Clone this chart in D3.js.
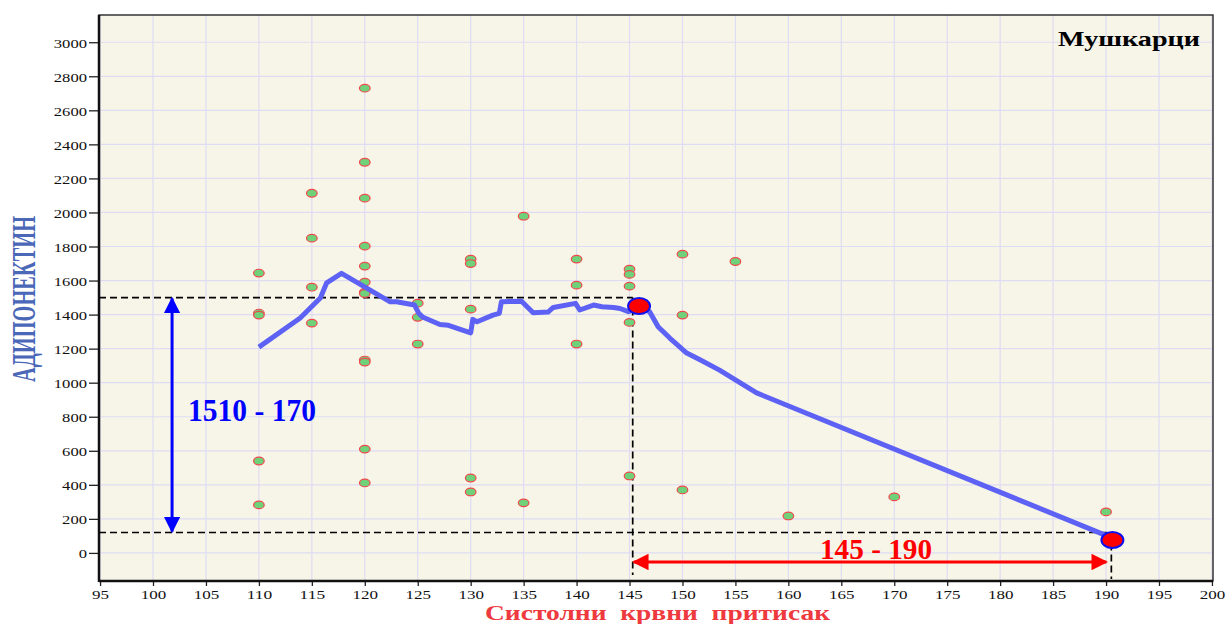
<!DOCTYPE html>
<html>
<head>
<meta charset="utf-8">
<script src="https://cdn.jsdelivr.net/npm/d3@7"></script>
<style>
html,body{margin:0;padding:0;background:#fff;}
svg{display:block;}
</style>
</head>
<body>
<svg id="chart" width="1226" height="624"></svg>
<script>
// ---- data ----
const scatterX = [110,110,110,110,110, 115,115,115,115,
  120,120,120,120,120,120,120,120,120,120,120,120,
  125,125,125, 130,130,130,130,130, 135,135, 140,140,140,
  145,145,145,145,145, 150,150,150, 155, 160, 170, 190];
const scatterY = [1644,1409,1397,540,282, 2113,1849,1561,1350,
  2730,2295,2084,1802,1685,1591,1532,1524,1133,1121,610,411,
  1467,1384,1227, 1726,1700,1432,440,358, 1978,294, 1726,1573,1227,
  1667,1636,1567,1354,452, 1755,1397,370, 1712, 217, 329, 241];

const curveX = [110,113.9,115.8,116.4,117.8,122.4,123,124.7,125.1,125.5,127.1,127.9,130,130.2,130.6,132.1,132.7,132.9,134.8,135.9,137.3,137.8,139.9,140.3,141.6,142.4,143.5,144.1,144.9,145.9,146.9,147.7,148.8,150.4,151.7,153.5,157,190.5];
const curveY = [1209,1380,1497,1587,1642,1475,1475,1456,1407,1384,1342,1337,1293,1372,1358,1397,1407,1475,1479,1411,1415,1442,1466,1427,1456,1446,1442,1436,1417,1440,1417,1329,1262,1174,1133,1074,940,90];

const markerX = [145.9, 190.6];
const markerY = [1450, 76];

const xTicks = d3.range(95, 201, 5);
const yTicks = d3.range(0, 3001, 200);

const yLevelHigh = 1500, yLevelLow = 120;
const xLevelLeft = 145.3, xLevelRight = 190.5;
const vArrowX = 101.8;

const title = "Мушкарци";
const xTitle = "Систолни  крвни  притисак";
const yTitle = "АДИПОНЕКТИН";
const vLabel = "1510 - 170";
const hLabel = "145 - 190";

// ---- layout ----
const L = 99, R = 1213, T = 15, B = 581;
const x = d3.scaleLinear().domain([94.9, 200.1]).range([L, R]);
const y = d3.scaleLinear().domain([-165, 3160]).range([B, T]);

const svg = d3.select("#chart");
const serif = "'Liberation Serif','Times New Roman',serif";

const defs = svg.append("defs");
function arrowMarker(id, color) {
  defs.append("marker").attr("id", id).attr("viewBox", "0 0 10 10")
    .attr("refX", 9).attr("refY", 5).attr("markerWidth", 5.5).attr("markerHeight", 5.5)
    .attr("orient", "auto-start-reverse").attr("markerUnits", "strokeWidth")
    .append("path").attr("d", "M0,0 L10,5 L0,10 z").attr("fill", color);
}
arrowMarker("ab", "#0000ff");
arrowMarker("ar", "#ff0000");

// background
svg.append("rect").attr("x", L).attr("y", T).attr("width", R - L).attr("height", B - T).attr("fill", "#f7f5e8");

// grid
const g = svg.append("g");
g.selectAll(".vg").data(xTicks).join("line")
  .attr("x1", d => x(d)).attr("x2", d => x(d)).attr("y1", T).attr("y2", B)
  .attr("stroke", "#dedcf3").attr("stroke-width", 1.2);
g.selectAll(".hg").data(yTicks).join("line")
  .attr("y1", d => y(d)).attr("y2", d => y(d)).attr("x1", L).attr("x2", R)
  .attr("stroke", "#dedcf3").attr("stroke-width", 1.2);

// axes
const yAxis = svg.append("g").attr("transform", `translate(${L},0)`)
  .call(d3.axisLeft(y).tickValues(yTicks).tickSize(10).tickPadding(2).tickFormat(d3.format("d")));
const xAxis = svg.append("g").attr("transform", `translate(0,${B})`)
  .call(d3.axisBottom(x).tickValues(xTicks).tickSize(5).tickPadding(2).tickFormat(d3.format("d")));
[yAxis, xAxis].forEach(a => {
  a.select(".domain").remove();
  a.selectAll("line").attr("stroke", "#222").attr("stroke-width", 1.3);
  a.selectAll("text").attr("font-family", serif).attr("font-size", 13.5).attr("fill", "#111")
    .attr("lengthAdjust", "spacingAndGlyphs");
});
yAxis.selectAll("text").attr("textLength", d => String(d).length * 8.3).attr("dy", "0.36em");
xAxis.selectAll("text").attr("textLength", d => String(d).length * 8.5).attr("dy", "0.78em");

// frame
svg.append("rect").attr("x", L).attr("y", T).attr("width", R - L).attr("height", B - T)
  .attr("fill", "none").attr("stroke", "#333").attr("stroke-width", 1.5);
svg.append("line").attr("x1", L).attr("x2", L).attr("y1", T).attr("y2", B + 1).attr("stroke", "#111").attr("stroke-width", 2.5);
svg.append("line").attr("x1", L).attr("x2", R).attr("y1", B).attr("y2", B).attr("stroke", "#111").attr("stroke-width", 2.5);

// dashed guide lines
const dash = svg.append("g").attr("stroke", "#000").attr("stroke-width", 1.7).attr("stroke-dasharray", "7,4");
dash.append("line").attr("x1", L).attr("x2", x(xLevelLeft)).attr("y1", y(yLevelHigh)).attr("y2", y(yLevelHigh));
dash.append("line").attr("x1", x(xLevelLeft)).attr("x2", x(xLevelLeft)).attr("y1", y(yLevelHigh)).attr("y2", B - 6);
dash.append("line").attr("x1", L).attr("x2", x(xLevelRight)).attr("y1", y(yLevelLow)).attr("y2", y(yLevelLow));
dash.append("line").attr("x1", x(xLevelRight)).attr("x2", x(xLevelRight)).attr("y1", y(yLevelLow)).attr("y2", B - 2);

// scatter points
svg.append("g").selectAll("ellipse").data(scatterX.map((d, i) => [d, scatterY[i]])).join("ellipse")
  .attr("cx", d => x(d[0])).attr("cy", d => y(d[1])).attr("rx", 5.3).attr("ry", 3.8)
  .attr("fill", "#6fd27a").attr("stroke", "#f0474a").attr("stroke-width", 1.2);

// curve
const curve = curveX.map((d, i) => [d, curveY[i]]);
svg.append("path").datum(curve)
  .attr("d", d3.line().x(d => x(d[0])).y(d => y(d[1])))
  .attr("fill", "none").attr("stroke", "#5e62f4").attr("stroke-width", 5)
  .attr("stroke-linejoin", "round").attr("stroke-linecap", "butt");

// highlighted markers
svg.append("g").selectAll("ellipse").data(markerX.map((d, i) => [d, markerY[i]])).join("ellipse")
  .attr("cx", d => x(d[0])).attr("cy", d => y(d[1])).attr("rx", 11).attr("ry", 8)
  .attr("fill", "#ff0000").attr("stroke", "#1010ee").attr("stroke-width", 2);

// arrows
svg.append("line").attr("x1", x(vArrowX)).attr("x2", x(vArrowX))
  .attr("y1", y(yLevelHigh) + 1).attr("y2", y(yLevelLow) - 1)
  .attr("stroke", "#0000ff").attr("stroke-width", 3)
  .attr("marker-start", "url(#ab)").attr("marker-end", "url(#ab)");
const hy = 562;
svg.append("line").attr("x1", x(xLevelLeft) + 1).attr("x2", x(xLevelRight) - 5)
  .attr("y1", hy).attr("y2", hy)
  .attr("stroke", "#ff0000").attr("stroke-width", 3)
  .attr("marker-start", "url(#ar)").attr("marker-end", "url(#ar)");

// labels
svg.append("text").attr("x", 188).attr("y", 421).text(vLabel)
  .attr("font-family", serif).attr("font-weight", "bold").attr("font-size", 31)
  .attr("fill", "#0000ff").attr("textLength", 128).attr("lengthAdjust", "spacingAndGlyphs");
svg.append("text").attr("x", 820).attr("y", 559).text(hLabel)
  .attr("font-family", serif).attr("font-weight", "bold").attr("font-size", 30)
  .attr("fill", "#ff0000").attr("textLength", 112).attr("lengthAdjust", "spacingAndGlyphs");

svg.append("text").attr("x", 1058).attr("y", 46).text(title)
  .attr("font-family", serif).attr("font-weight", "bold").attr("font-size", 22).attr("fill", "#000")
  .attr("textLength", 142).attr("lengthAdjust", "spacingAndGlyphs");

svg.append("text").attr("x", 485).attr("y", 620).text(xTitle)
  .attr("font-family", serif).attr("font-weight", "bold").attr("font-size", 21).attr("fill", "#ee3a3f")
  .attr("xml:space", "preserve").style("white-space", "pre")
  .attr("textLength", 345).attr("lengthAdjust", "spacingAndGlyphs");

svg.append("text").attr("transform", "translate(35,299) rotate(-90)").attr("text-anchor", "middle").text(yTitle)
  .attr("font-family", serif).attr("font-weight", "bold").attr("font-size", 33).attr("fill", "#4a67b8")
  .attr("textLength", 166).attr("lengthAdjust", "spacingAndGlyphs");
</script>
</body>
</html>
